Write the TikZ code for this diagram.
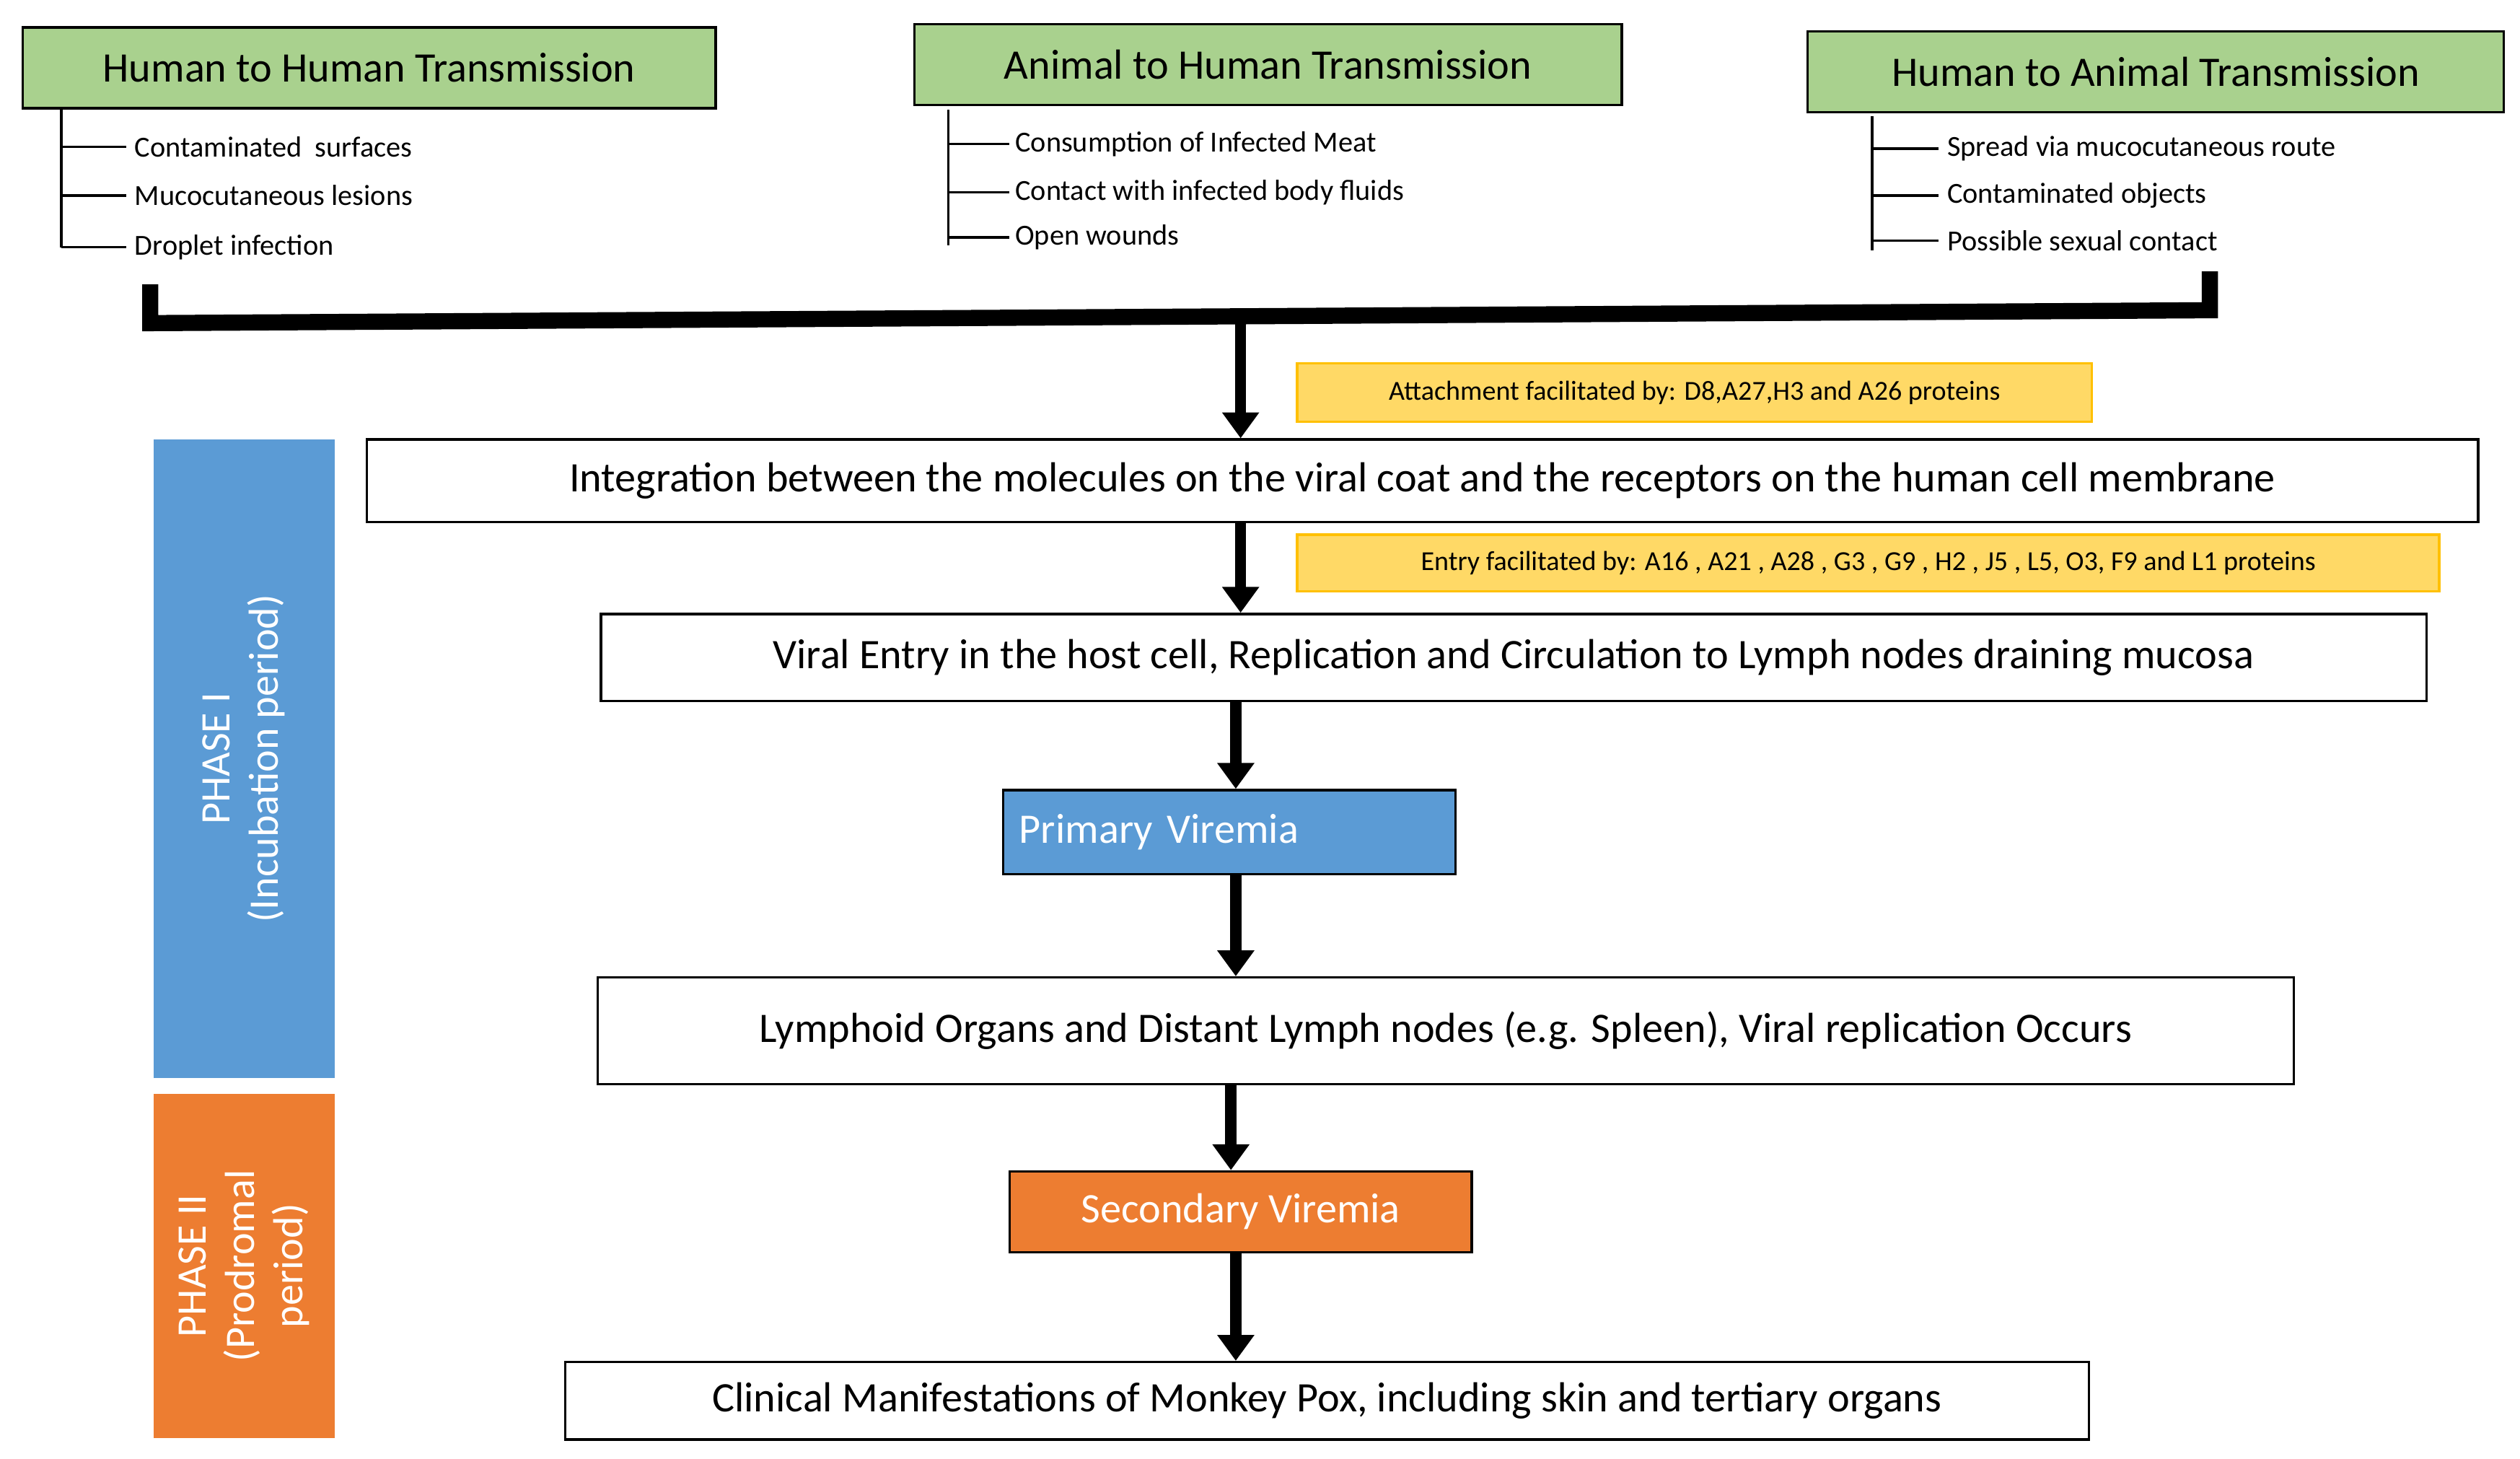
\documentclass[tikz,border=0pt]{standalone}
\usepackage{fontspec}
\setmainfont{Carlito}
\usetikzlibrary{arrows.meta}
\definecolor{grn}{RGB}{169,209,142}
\definecolor{yel}{RGB}{255,217,102}
\definecolor{yelb}{RGB}{255,192,0}
\definecolor{blu}{RGB}{91,155,213}
\definecolor{org}{RGB}{237,125,49}
\tikzset{every picture/.style={line width=1.5pt},
  head/.style={draw,fill=grn,minimum height=50,inner sep=0,font=\fontsize{26}{30}\selectfont},
  item/.style={anchor=west,inner sep=0.75pt,font=\fontsize{18}{21}\selectfont},
  stage/.style={draw,inner sep=0,font=\fontsize{26}{30}\selectfont},
  note/.style={draw=yelb,fill=yel,inner sep=0,font=\fontsize{17}{20}\selectfont},
  vir/.style={draw,inner sep=0,text=white,font=\fontsize{26}{30}\selectfont},
  phase/.style={fill,inner sep=0,text=white,align=center,font=\fontsize{26}{30}\selectfont},
  flow/.style={line width=7pt,-{Triangle[width=22,length=16]}}}
\begin{document}
\begin{tikzpicture}[x=1pt,y=1pt,yscale=-1]
\useasboundingbox (0,0) rectangle (1560,903);

%Heads
\node[head,minimum width=429] (hh) at (228.5,42) {Human to Human Transmission};
\node[head,minimum width=438] (ah) at (785,40) {Animal to Human Transmission};
\node[head,minimum width=431] (ha) at (1334.5,44.5) {Human to Animal Transmission};

%Lists
\draw (38,67) -- (38,153);
\foreach \y/\t in {91/Contaminated\ \ surfaces/objects,121/Mucocutaneous lesions,153/Droplet infection}
  {\draw (38,\y) -- (78,\y); \node[item] at (82,\y) {\t};}
\draw (587,68) -- (587,152);
\foreach \y/\t in {89/Consumption of Infected Meat,119/Contact with infected body fluids,147/Open wounds/bites from infected animals}
  {\draw (587,\y) -- (625,\y); \node[item] at (627,\y) {\t};}
\draw (1159,72) -- (1159,155);
\foreach \y/\t in {92/Spread via mucocutaneous route,121/Contaminated objects/ subjects,149/Possible sexual contact}
  {\draw (1159,\y) -- (1200,\y); \node[item] at (1204,\y) {\t};}

%Bracket
\draw[line width=10pt] (93,176) -- (93,200) -- (1368,192) -- (1368,168);
\coordinate (top) at (768,196);
\coordinate (xa) at (768,0);
\coordinate (xb) at (765,0);
\coordinate (xc) at (762,0);

%Phases
\node[phase,fill=blu,minimum width=112,minimum height=395] (p1) at (151,469.5) {};
\node[rotate=90,text=white,align=center,font=\fontsize{26}{30}\selectfont] at (p1) {PHASE I\\(Incubation period)};
\node[phase,fill=org,minimum width=112,minimum height=213] (p2) at (151,783.5) {};
\node[rotate=90,text=white,align=center,font=\fontsize{26}{30}\selectfont] at (p2) {PHASE II\\(Prodromal\\period)};

%Stages
\node[note,minimum width=492,minimum height=36] (n1) at (1049,243) {Attachment facilitated by: D8,A27,H3 and A26 proteins};
\node[stage,minimum width=1307,minimum height=51] (s1) at (880.5,297.5) {Integration between the molecules on the viral coat and the receptors on the human cell membrane};
\node[note,minimum width=707,minimum height=35] (n2) at (1156.5,348.5) {Entry facilitated by: A16 , A21 , A28 , G3 , G9 , H2 , J5 , L5, O3, F9 and L1 proteins};
\node[stage,minimum width=1130,minimum height=54] (s2) at (937,407) {Viral Entry in the host cell, Replication and Circulation to Lymph nodes draining mucosa};
\node[vir,fill=blu,minimum width=280,minimum height=52,text width=260] (v1) at (761,515) {Primary Viremia};
\node[stage,minimum width=1050,minimum height=66] (s3) at (895,638) {Lymphoid Organs and Distant Lymph nodes (e.g. Spleen), Viral replication Occurs};
\node[vir,fill=org,minimum width=286,minimum height=50] (v2) at (768,750) {Secondary Viremia};
\node[stage,minimum width=943,minimum height=48] (s4) at (821.5,867) {Clinical Manifestations of Monkey Pox, including skin and tertiary organs};

%Flow
\draw[flow] (top) -- (top|-s1.north);
\draw[flow] (xa|-s1.south) -- (xa|-s2.north);
\draw[flow] (xb|-s2.south) -- (xb|-v1.north);
\draw[flow] (xb|-v1.south) -- (xb|-s3.north);
\draw[flow] (xc|-s3.south) -- (xc|-v2.north);
\draw[flow] (xb|-v2.south) -- (xb|-s4.north);
\end{tikzpicture}
\end{document}
